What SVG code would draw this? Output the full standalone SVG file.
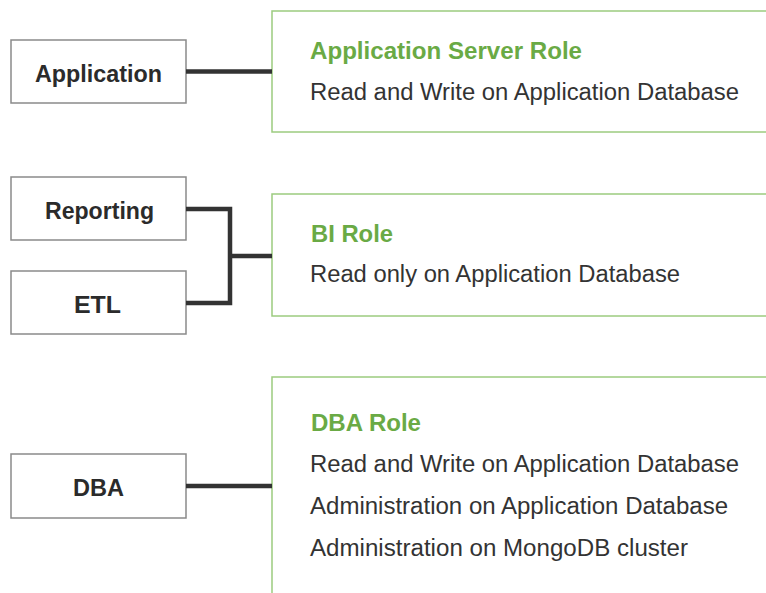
<svg xmlns="http://www.w3.org/2000/svg" width="766" height="593" viewBox="0 0 766 593">
<style>
.src rect{fill:#fff;stroke:#8a8a8a;stroke-width:1.5}
.src text{font-family:"Liberation Sans",Arial,sans-serif;font-weight:bold;font-size:24px;fill:#2b2b2b;text-anchor:middle}
.role rect{fill:#fff;stroke:#9ccb7f;stroke-width:1.5}
.role .t{font-family:"Liberation Sans",Arial,sans-serif;font-weight:bold;font-size:23px;fill:#6aaa45}
.role .b{font-family:"Liberation Sans",Arial,sans-serif;font-size:23px;fill:#333}
.conn path{fill:none;stroke:#333;stroke-width:4.5}
</style>
<g id="role-app" class="role">
<rect x="272" y="11" width="520" height="121"/>
<text class="t" x="310" y="59" textLength="272" lengthAdjust="spacingAndGlyphs">Application Server Role</text>
<text class="b" x="310" y="100" textLength="429" lengthAdjust="spacingAndGlyphs">Read and Write on Application Database</text>
</g>
<g id="role-bi" class="role">
<rect x="272" y="194" width="520" height="122"/>
<text class="t" x="311" y="242" textLength="82" lengthAdjust="spacingAndGlyphs">BI Role</text>
<text class="b" x="310" y="282" textLength="370" lengthAdjust="spacingAndGlyphs">Read only on Application Database</text>
</g>
<g id="role-dba" class="role">
<rect x="272" y="377" width="520" height="240"/>
<text class="t" x="311" y="431" textLength="110" lengthAdjust="spacingAndGlyphs">DBA Role</text>
<text class="b" x="310" y="472" textLength="429" lengthAdjust="spacingAndGlyphs">Read and Write on Application Database</text>
<text class="b" x="310" y="514" textLength="418" lengthAdjust="spacingAndGlyphs">Administration on Application Database</text>
<text class="b" x="310" y="556" textLength="378" lengthAdjust="spacingAndGlyphs">Administration on MongoDB cluster</text>
</g>
<g id="node-application" class="src">
<rect x="11" y="40" width="175" height="63"/>
<text x="98.5" y="81.5" textLength="127" lengthAdjust="spacingAndGlyphs">Application</text>
</g>
<g id="node-reporting" class="src">
<rect x="11" y="177" width="175" height="63"/>
<text x="99.5" y="218.5" textLength="109" lengthAdjust="spacingAndGlyphs">Reporting</text>
</g>
<g id="node-etl" class="src">
<rect x="11" y="271" width="175" height="63"/>
<text x="97.5" y="312.5" textLength="47" lengthAdjust="spacingAndGlyphs">ETL</text>
</g>
<g id="node-dba" class="src">
<rect x="11" y="454" width="175" height="64"/>
<text x="98.5" y="495.5" textLength="51" lengthAdjust="spacingAndGlyphs">DBA</text>
</g>
<g id="connectors" class="conn">
<path d="M186,71.5 H272"/>
<path d="M186,209 H230 V303 H186"/>
<path d="M230,256 H272"/>
<path d="M186,486 H272"/>
</g>
</svg>
